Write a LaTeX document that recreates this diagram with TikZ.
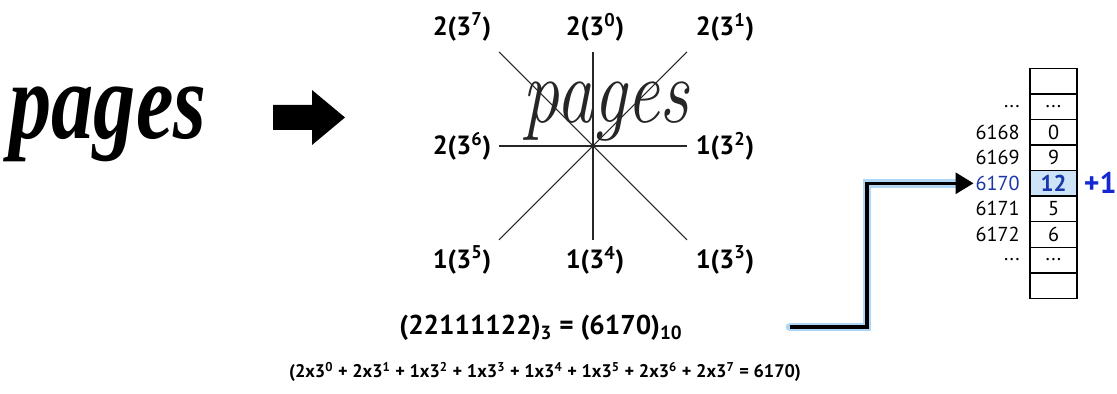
\documentclass[tikz,border=0pt]{standalone}
\usepackage{fontspec}
\setsansfont{PT Sans}
\newfontfamily\inkfont{Liberation Serif}
\usetikzlibrary{arrows.meta, positioning, calc}
\definecolor{hiblue}{RGB}{25,55,170}
\definecolor{plusblue}{RGB}{20,40,210}
\definecolor{glow}{RGB}{175,215,245}
\definecolor{cellfill}{RGB}{205,228,248}

\begin{document}
\begin{tikzpicture}[x=0.02cm, y=0.02cm,
    dirlabel/.style={font=\sffamily\bfseries\fontsize{15}{15}\selectfont, inner sep=1pt},
    cell/.style={draw, line width=0.8pt, minimum width=0.94cm, minimum height=0.511cm, inner sep=0pt, font=\sffamily\fontsize{11.5}{11.5}\selectfont},
    idx/.style={inner sep=1pt, font=\sffamily\fontsize{11.5}{11.5}\selectfont},
    ray/.style={line width=0.6pt, draw=black!85},
    link/.style={-{Triangle[length=0.36cm, width=0.42cm]}, line width=1.8pt},
    halo/.style={line width=5pt, draw=glow, line cap=round}
]
    \useasboundingbox (0,0) rectangle (1117,394);

    % Handwritten word
    \node[yscale=1.3, transform shape, inner sep=0pt] (word) at (108,270) {\inkfont\fontsize{48}{48}\selectfont\bfseries\itshape pages};

    % Block arrow
    \fill (273,264) -- (312,264) -- (312,249) -- (345,276.5) -- (312,304) -- (312,289) -- (273,289) -- cycle;

    % Direction star
    \coordinate (ctr) at (593,248);
    \node[yscale=1.25, transform shape, inner sep=0pt, text=black!85] (trace) at (606,282) {\fontsize{42}{42}\selectfont\itshape pages};
    \draw[ray] (499,342) -- (687,154);
    \draw[ray] (687,342) -- (499,154);
    \draw[ray] (593,342) -- (593,154);
    \draw[ray] (499,248) -- (687,248);

    % Direction labels
    \node[dirlabel] (d7) at (462,367) {2(3\textsuperscript{7})};
    \node[dirlabel] (d0) at (595,367) {2(3\textsuperscript{0})};
    \node[dirlabel] (d1) at (725,367) {2(3\textsuperscript{1})};
    \node[dirlabel] (d6) at (462,248) {2(3\textsuperscript{6})};
    \node[dirlabel] (d2) at (725,248) {1(3\textsuperscript{2})};
    \node[dirlabel] (d5) at (462,134) {1(3\textsuperscript{5})};
    \node[dirlabel] (d4) at (595,134) {1(3\textsuperscript{4})};
    \node[dirlabel] (d3) at (725,134) {1(3\textsuperscript{3})};

    % Equations
    \node[font=\sffamily\bfseries\fontsize{15.5}{15.5}\selectfont] (eq) at (541,66) {(22111122)\textsubscript{3} = (6170)\textsubscript{10}};
    \node[font=\sffamily\bfseries\fontsize{10.4}{10.4}\selectfont] (sum) at (545,22) {(2x3\textsuperscript{0} + 2x3\textsuperscript{1} + 1x3\textsuperscript{2} + 1x3\textsuperscript{3} + 1x3\textsuperscript{4} + 1x3\textsuperscript{5} + 2x3\textsuperscript{6} + 2x3\textsuperscript{7} = 6170)};

    % Accumulator table
    \node[cell] (c0) at (1053.5,312.9) {};
    \node[cell] (c1) at (1053.5,287.3) {...};
    \node[cell] (c2) at (1053.5,261.8) {0};
    \node[cell] (c3) at (1053.5,236.2) {9};
    \node[cell, fill=cellfill, text=hiblue, font=\sffamily\bfseries\fontsize{13}{13}\selectfont] (c4) at (1053.5,210.7) {12};
    \node[cell] (c5) at (1053.5,185.1) {5};
    \node[cell] (c6) at (1053.5,159.5) {6};
    \node[cell] (c7) at (1053.5,134.0) {...};
    \node[cell] (c8) at (1053.5,108.4) {};

    \node[idx, left=0.15cm of c1] (i1) {...};
    \node[idx, left=0.15cm of c2] (i2) {6168};
    \node[idx, left=0.15cm of c3] (i3) {6169};
    \node[idx, left=0.15cm of c4, text=hiblue] (i4) {6170};
    \node[idx, left=0.15cm of c5] (i5) {6171};
    \node[idx, left=0.15cm of c6] (i6) {6172};
    \node[idx, left=0.15cm of c7] (i7) {...};
    \node[right=0.08cm of c4, text=plusblue, font=\sffamily\bfseries\fontsize{17}{17}\selectfont, inner sep=1pt] (plus) {+1};

    % Lookup connector
    \coordinate (from) at (790,67);
    \coordinate (bend) at (867,210.7);
    \draw[halo] (from) -| (bend) -- ($(i4.west)+(-12,0)$);
    \draw[link] (from) -| (bend) -- (i4.west);
\end{tikzpicture}
\end{document}
